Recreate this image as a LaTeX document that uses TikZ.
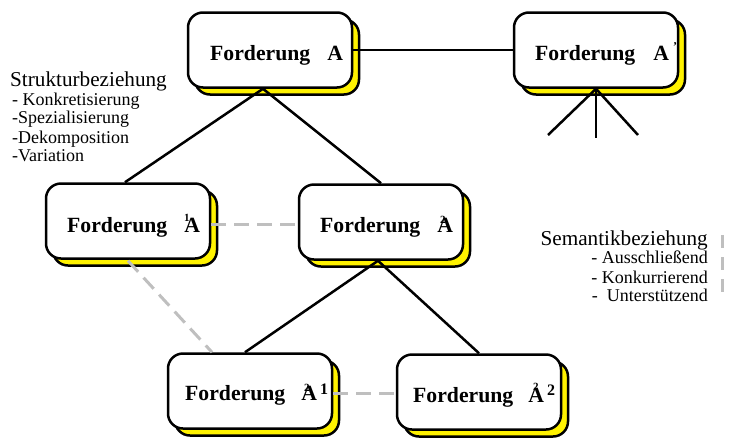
\documentclass[tikz,border=0pt]{standalone}
\usepackage{fontspec}
\setmainfont{Liberation Serif}
\usetikzlibrary{shadows,calc}
\newcommand\boxfont{\fontsize{21.7}{26}\selectfont\bfseries}
\newcommand\headfont{\fontsize{21.2}{25}\selectfont}
\newcommand\itemfont{\fontsize{18}{21}\selectfont}
\tikzset{
  reqbox/.style={draw=black, line width=2.5pt, rounded corners=15pt, fill=white,
    minimum width=164pt, minimum height=75pt, inner sep=0pt,
    general shadow={shadow xshift=7pt, shadow yshift=-7pt, fill=yellow, draw=black, line width=2.5pt}},
  lbl/.style={inner sep=0pt, anchor=base west, font=\boxfont},
  tinyd/.style={inner sep=0pt, anchor=base west, font=\fontsize{11}{12}\selectfont\bfseries},
  supd/.style={inner sep=0pt, anchor=base west, font=\fontsize{16}{18}\selectfont\bfseries},
  struct/.style={draw=black, line width=2.5pt},
  sem/.style={draw=black!25, line width=3pt, dash pattern=on 15pt off 8pt},
  head/.style={inner sep=0pt, font=\headfont},
  item/.style={inner sep=0pt, font=\itemfont}
}
\begin{document}
\begin{tikzpicture}[x=1pt,y=-1pt]
\useasboundingbox (0,0) rectangle (733,437);
% boxes
\node[reqbox] (A)   at (270,50)  {};
\node[reqbox] (Ap)  at (596,50)  {};
\node[reqbox] (A1)  at (128,221) {};
\node[reqbox] (A2)  at (381,222) {};
\node[reqbox] (A21) at (250,391) {};
\node[reqbox] (A22) at (479,392) {};
% structural connectors
\draw[struct] (A.east) -- (Ap.west);
\coordinate (Aa) at ([xshift=-7pt]A.south);
\draw[struct] ([xshift=-3pt]A1.north) -- (Aa) -- (A2.north);
\coordinate (f1) at (548,135);
\coordinate (f2) at (596,138);
\coordinate (f3) at (638,135);
\draw[struct] (f1) -- (Ap.south) -- (f3);
\draw[struct] (Ap.south) -- (f2);
\coordinate (A2a) at ([xshift=-3pt]A2.south);
\draw[struct] ([xshift=-5pt]A21.north) -- (A2a) -- (A22.north);
% semantic connectors
\draw[sem] ([yshift=-3pt]A1.east) -- ([yshift=-2pt]A2.west);
\draw[sem] ([yshift=-1pt]A1.south) -- ([xshift=-38pt]A21.north);
\draw[sem] ([yshift=-2pt]A21.east) -- ([yshift=-1pt]A22.west);
% labels
\node[lbl] (tA)   at (210,60)  {Forderung\hspace{17pt}A};
\node[lbl] (tAp)  at (535,60)  {Forderung\hspace{18pt}A};
\node[inner sep=0pt, anchor=base west, font=\fontsize{12}{12}\selectfont\bfseries] (pAp) at (673,50) {'};
\node[lbl] (tA1)  at (67,232)  {Forderung\hspace{17pt}A};
\node[tinyd] (dA1) at (184,221) {1};
\node[lbl] (tA2)  at (320,232) {Forderung\hspace{17pt}A};
\node[tinyd] (dA2) at (440,223) {2};
\node[lbl] (tA21) at (185,400) {Forderung\hspace{16pt}A};
\node[tinyd] (dA21) at (304,391) {2};
\node[supd] (sA21) at (320,394) {1};
\node[lbl] (tA22) at (413,402) {Forderung\hspace{15pt}A};
\node[tinyd] (dA22) at (533,390) {2};
\node[supd] (sA22) at (547,395) {2};
% legends
\node[head, anchor=base west] (sh) at (10,86) {Strukturbeziehung};
\node[item, anchor=base west] (s1) at (12,105) {- Konkretisierung};
\node[item, anchor=base west] (s2) at (12,123) {-Spezialisierung};
\node[item, anchor=base west] (s3) at (12,143) {-Dekomposition};
\node[item, anchor=base west] (s4) at (12,161) {-Variation};
\node[head, anchor=base east] (mh) at (708,245) {Semantikbeziehung};
\node[item, anchor=base east] (m1) at (708,263) {- Ausschließend};
\node[item, anchor=base east] (m2) at (708,283) {- Konkurrierend};
\node[item, anchor=base east] (m3) at (708,301) {-\hspace{9pt}Unterstützend};
\coordinate (l1) at (722,235);
\coordinate (l2) at (722,300);
\draw[sem, dash pattern=on 13pt off 9pt] (l1) -- (l2);
\end{tikzpicture}
\end{document}
